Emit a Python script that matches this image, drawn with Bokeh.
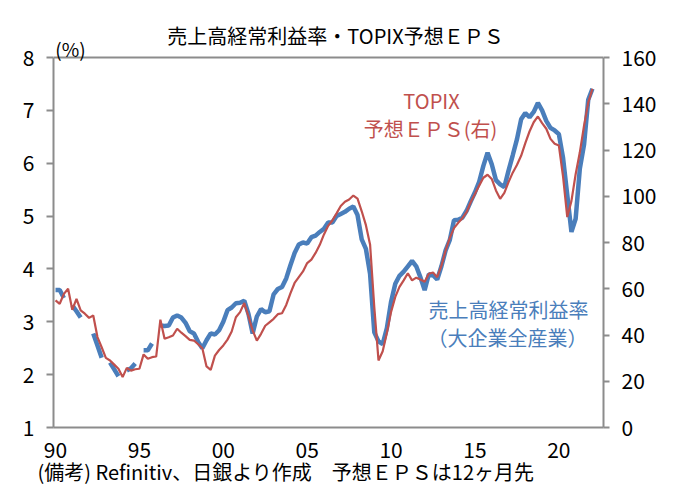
import numpy as np
from bokeh.plotting import figure
from bokeh.models import Range1d, LinearAxis, FixedTicker, Label, Span, Title
from bokeh.embed import file_html
from bokeh.resources import INLINE

# ---------------- data (quarterly, from 1990 Q1) ----------------
start_year = 1990
nan = float("nan")

# 売上高経常利益率（大企業全産業）, % (left axis); nan = no data
profit_margin = [
    3.60, 3.60, 3.45, nan,    # 1990
    3.31, 3.20, 3.08, nan,    # 1991
    nan, 2.78, 2.55, 2.32,    # 1992
    nan, 2.23, 2.10, 1.97,    # 1993
    nan, 2.08, 2.12, 2.21,    # 1994
    nan, 2.46, 2.46, 2.59,    # 1995
    nan, 2.93, 2.92, 2.93,    # 1996
    3.08, 3.12, 3.08, 2.98,   # 1997
    2.82, 2.78, 2.62, 2.50,   # 1998
    2.65, 2.78, 2.76, 2.84,   # 1999
    3.00, 3.22, 3.27, 3.35,   # 2000
    3.36, 3.40, 3.15, 2.78,   # 2001
    3.10, 3.24, 3.18, 3.20,   # 2002
    3.52, 3.62, 3.66, 3.82,   # 2003
    4.07, 4.30, 4.46, 4.50,   # 2004
    4.48, 4.60, 4.63, 4.70,   # 2005
    4.76, 4.88, 4.88, 5.00,   # 2006
    5.04, 5.08, 5.14, 5.18,   # 2007
    5.02, 4.56, 4.38, 3.90,   # 2008
    2.80, 2.63, 2.58, 2.88,   # 2009
    3.38, 3.72, 3.87, 3.95,   # 2010
    4.05, 4.15, 4.05, 3.84,   # 2011
    3.60, 3.90, 3.88, 3.80,   # 2012
    4.05, 4.35, 4.55, 4.92,   # 2013
    4.93, 4.97, 5.10, 5.28,   # 2014
    5.45, 5.65, 5.95, 6.20,   # 2015
    5.98, 5.68, 5.60, 5.55,   # 2016
    5.86, 6.15, 6.45, 6.83,   # 2017
    6.95, 6.87, 6.97, 7.14,   # 2018
    7.00, 6.80, 6.67, 6.62,   # 2019
    6.55, 6.10, 5.40, 4.70,   # 2020
    4.95, 5.90, 6.35, 7.20,   # 2021
    7.41,                     # 2022
]

# TOPIX 予想EPS (right axis)
topix_eps = [
    55.0, 53.5, 57.8, 60.0,   # 1990
    50.9, 55.6, 50.6, 49.2,   # 1991
    47.4, 48.4, 39.1, 34.7,   # 1992
    30.1, 29.0, 27.2, 25.4,   # 1993
    21.8, 25.8, 24.6, 25.2,   # 1994
    25.4, 31.6, 29.7, 30.4,   # 1995
    30.7, 46.6, 38.4, 39.0,   # 1996
    39.8, 42.7, 41.0, 39.5,   # 1997
    37.9, 37.6, 36.0, 34.3,   # 1998
    26.4, 24.9, 31.1, 33.5,   # 1999
    35.5, 38.0, 41.5, 47.7,   # 2000
    49.9, 53.8, 48.0, 42.0,   # 2001
    37.6, 40.5, 44.0, 45.5,   # 2002
    47.0, 49.0, 49.4, 53.0,   # 2003
    58.0, 62.5, 65.0, 67.5,   # 2004
    71.1, 72.6, 75.5, 79.0,   # 2005
    83.5, 87.2, 89.5, 92.6,   # 2006
    95.8, 97.6, 98.6, 100.3,  # 2007
    99.0, 93.5, 87.5, 79.0,   # 2008
    52.0, 29.0, 33.0, 41.0,   # 2009
    50.0, 56.5, 60.8, 63.6,   # 2010
    66.7, 63.6, 64.8, 64.0,   # 2011
    63.0, 66.5, 67.0, 65.0,   # 2012
    70.0, 76.5, 82.0, 86.2,   # 2013
    88.5, 90.5, 93.1, 97.5,   # 2014
    101.0, 104.6, 108.0, 109.3,  # 2015
    107.5, 102.5, 98.9, 101.5,   # 2016
    106.1, 110.2, 113.5, 117.5,  # 2017
    123.0, 128.0, 132.0, 134.5,  # 2018
    131.6, 129.2, 124.8, 122.7,  # 2019
    121.9, 108.5, 91.0, 98.0,    # 2020
    109.5, 119.0, 130.5, 140.5,  # 2021
    146.5,                       # 2022
]

x_tick_years = [1990, 1995, 2000, 2005, 2010, 2015, 2020]
x_tick_labels = ["90", "95", "00", "05", "10", "15", "20"]
left_ticks = [1, 2, 3, 4, 5, 6, 7, 8]
right_ticks = [0, 20, 40, 60, 80, 100, 120, 140, 160]

title_text = "売上高経常利益率・TOPIX予想ＥＰＳ"
unit_text = "(%)"
red_label_1 = "TOPIX"
red_label_2 = "予想ＥＰＳ(右)"
blue_label_1 = "売上高経常利益率"
blue_label_2 = "（大企業全産業）"
note_text = "(備考) Refinitiv、日銀より作成　予想ＥＰＳは12ヶ月先"

# ---------------- figure ----------------
FONT = "Noto Sans CJK JP"
BLUE = "#4A7EBB"
RED = "#C0504D"
AXIS = "#8C8C8C"

t_blue = start_year + np.arange(len(profit_margin)) / 4.0
t_red = start_year + np.arange(len(topix_eps)) / 4.0

W, H = 679, 495
# visible plot box (pixels) and the drawing frame (extends above the box)
BOX_L, BOX_R, BOX_T, BOX_B = 53, 603, 57, 427
FRAME_T = 10

X0, X1 = 1989.88, 2022.66
L0, L1 = 1.0, 8.0
R0, R1 = 0.0, 160.0
px_per_l = (BOX_B - BOX_T) / (L1 - L0)
px_per_r = (BOX_B - BOX_T) / (R1 - R0)
L_TOP = L1 + (BOX_T - FRAME_T) / px_per_l
R_TOP = R1 + (BOX_T - FRAME_T) / px_per_r

p = figure(width=W, height=H, output_backend="svg", toolbar_location=None,
           x_range=Range1d(X0, X1), y_range=Range1d(L0, L_TOP),
           min_border_left=BOX_L, min_border_right=W - BOX_R,
           min_border_top=FRAME_T, min_border_bottom=H - BOX_B)
p.extra_y_ranges = {"eps": Range1d(R0, R_TOP)}
p.xgrid.visible = False
p.ygrid.visible = False
p.background_fill_color = "white"
p.border_fill_color = "white"
p.outline_line_color = None


def style_axis(ax):
    ax.axis_line_color = AXIS
    ax.axis_line_width = 2
    ax.major_tick_line_color = AXIS
    ax.major_tick_line_width = 2
    ax.minor_tick_line_color = None
    ax.major_label_text_font = FONT
    ax.major_label_text_font_size = "21px"
    ax.major_label_text_color = "black"


xa = p.xaxis[0]
style_axis(xa)
xa.ticker = FixedTicker(ticks=x_tick_years)
xa.major_label_overrides = {y: s for y, s in zip(x_tick_years, x_tick_labels)}
xa.major_tick_out = 0
xa.major_tick_in = 0
xa.major_label_standoff = 14

ya = p.yaxis[0]
style_axis(ya)
ya.ticker = FixedTicker(ticks=left_ticks)
ya.bounds = (L0, L1)
ya.major_tick_out = 7
ya.major_tick_in = 0
ya.major_label_standoff = 12

ra = LinearAxis(y_range_name="eps", ticker=FixedTicker(ticks=right_ticks), bounds=(R0, R1))
style_axis(ra)
ra.major_tick_out = 6
ra.major_tick_in = 0
ra.major_label_standoff = 12
p.add_layout(ra, "right")

# top border of the plot box
p.add_layout(Span(location=L1, dimension="width", line_color=AXIS, line_width=2))

p.line(t_blue, profit_margin, line_color=BLUE, line_width=4.5)
p.line(t_red, topix_eps, line_color=RED, line_width=2.2, y_range_name="eps")


# annotation placement helper: window pixel -> data coords
def px(xw, yw):
    x = X0 + (xw - BOX_L) / (BOX_R - BOX_L) * (X1 - X0)
    y = L1 - (yw - BOX_T) / px_per_l
    return x, y


def add_text(text, xw, yw, color="black", size="20px", align="center"):
    x, y = px(xw, yw)
    p.add_layout(Label(x=x, y=y, text=text, text_font=FONT, text_font_size=size,
                       text_color=color, text_align=align, text_baseline="middle"))


add_text(title_text, 335, 35)
add_text(unit_text, 70, 48, size="19px")
add_text(red_label_1, 431, 100, color=RED)
add_text(red_label_2, 430, 128, color=RED)
add_text(blue_label_1, 508, 309, color=BLUE)
add_text(blue_label_2, 507, 337, color=BLUE)

note = Title(text=note_text, align="left", offset=37 - BOX_L, standoff=-12,
             text_font=FONT, text_font_size="20px", text_font_style="normal",
             text_color="black", vertical_align="bottom")
p.add_layout(note, "below")

open("out.html", "w").write(file_html(p, INLINE))
